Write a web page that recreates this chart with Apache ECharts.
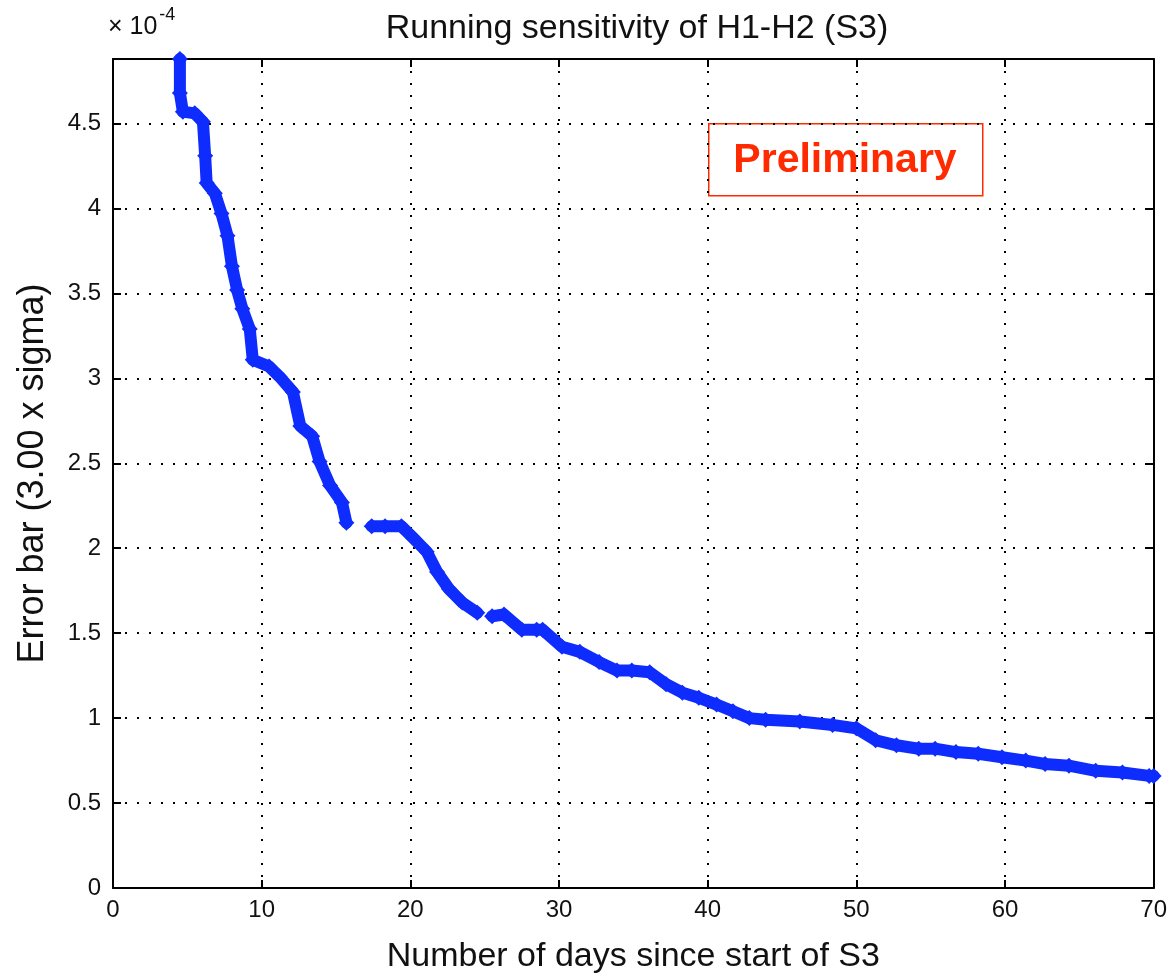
<!DOCTYPE html>
<html>
<head>
<meta charset="utf-8">
<script src="https://cdn.jsdelivr.net/npm/echarts@6/dist/echarts.min.js"></script>
<style>
  html, body { margin: 0; padding: 0; background: #fff; }
  #main { width: 1170px; height: 979px; }
</style>
</head>
<body>
<div id="main"></div>
<script>
// days since start of S3
const days = [4.5, 4.5, 4.7, 5.5, 6.05, 6.2, 6.3, 6.85, 7.3, 7.7, 8.0, 8.35, 8.7, 9.2, 9.4, 10.5, 11.2,
  12.1, 12.6, 13.4, 13.9, 14.6, 15.4, 15.7, 16.5, 17.4, 18.3, 19.4, 20.2, 21.1, 21.8, 22.6, 23.5, 24.5,
  25.0, 25.5, 26.3, 27.5, 28.5, 28.9, 30.2, 31.4, 32.7, 33.9, 34.9, 36.1, 37.2, 38.3, 39.4, 40.6, 41.7,
  42.8, 43.9, 46.2, 48.4, 50.0, 51.3, 52.7, 54.2, 55.3, 56.7, 58.2, 59.8, 61.4, 62.7, 64.3, 66.1, 67.9,
  69.7, 70];
// error bar (3 sigma), in units of 1e-4; null = gap in the data
const errBar = [4.88, 4.68, 4.57, 4.56, 4.51, 4.31, 4.15, 4.09, 3.97, 3.84, 3.66, 3.52, 3.41, 3.29, 3.11,
  3.07, 3.01, 2.92, 2.72, 2.66, 2.51, 2.37, 2.27, 2.15, null, 2.13, 2.13, 2.13, 2.06, 1.98, 1.86, 1.76,
  1.68, 1.62, null, 1.60, 1.61, 1.52, 1.52, 1.52, 1.42, 1.39, 1.33, 1.28, 1.28, 1.27, 1.20, 1.15, 1.12,
  1.08, 1.04, 1.00, 0.99, 0.98, 0.96, 0.94, 0.87, 0.84, 0.82, 0.82, 0.80, 0.79, 0.77, 0.75, 0.73, 0.72,
  0.69, 0.68, 0.66, 0.66];
const yTicks = [0, 0.5, 1, 1.5, 2, 2.5, 3, 3.5, 4, 4.5];

const font = 'Liberation Sans';
const blue = '#0f2cff';
const pts = days.map((d, i) => [d, errBar[i] === null ? '-' : errBar[i]]);

const chart = echarts.init(document.getElementById('main'));

const frame = {onZero: false, lineStyle: {color: '#000', width: 2}};
const tick = {show: true, inside: true, length: 8, lineStyle: {color: '#000', width: 2}};
const dots = {show: true, lineStyle: {color: '#000', width: 2, type: [2, 10]}};

chart.setOption({
  animation: false,
  backgroundColor: '#fff',
  grid: {left: 113, right: 15, top: 59, bottom: 90},
  title: {
    text: 'Running sensitivity of H1-H2 (S3)',
    left: 632, top: 7, textAlign: 'center',
    textStyle: {fontFamily: font, fontSize: 34, fontWeight: 'normal', color: '#111'}
  },
  xAxis: [{
    type: 'value', min: 0, max: 70, interval: 10,
    axisLine: frame, axisTick: tick,
    splitLine: dots,
    axisLabel: {fontFamily: font, fontSize: 24, color: '#111', margin: 10},
    name: 'Number of days since start of S3',
    nameLocation: 'middle', nameGap: 52,
    nameTextStyle: {fontFamily: font, fontSize: 34, color: '#111'}
  }, {
    type: 'value', min: 0, max: 70, interval: 10, position: 'top',
    axisLine: frame, axisTick: tick,
    axisLabel: {show: false}, splitLine: {show: false}
  }],
  yAxis: [{
    type: 'value', min: 0, max: 4.88, interval: 0.5,
    axisLine: {show: true, onZero: false, lineStyle: {color: '#000', width: 2}},
    axisTick: tick,
    splitLine: dots,
    axisLabel: {
      fontFamily: font, fontSize: 24, color: '#111', margin: 12,
      formatter: v => yTicks.includes(+v.toFixed(2)) ? String(+v.toFixed(2)) : ''
    },
    name: 'Error bar (3.00 x sigma)',
    nameLocation: 'middle', nameGap: 62, nameRotate: 90,
    nameTextStyle: {fontFamily: font, fontSize: 36, color: '#111'}
  }, {
    type: 'value', min: 0, max: 4.88, interval: 0.5, position: 'right',
    axisLine: {show: true, onZero: false, lineStyle: {color: '#000', width: 2}},
    axisTick: tick,
    axisLabel: {show: false}, splitLine: {show: false}
  }],
  series: [{
    type: 'line',
    data: pts,
    connectNulls: false,
    lineStyle: {color: blue, width: 12, join: 'round', cap: 'round'},
    symbol: 'diamond', symbolSize: 16, showAllSymbol: true,
    itemStyle: {color: blue},
    clip: true
  }],
  graphic: [{
    type: 'text', left: 108, top: 6,
    style: {
      text: '{a|× 10}{b|-4}',
      rich: {
        a: {fontFamily: font, fontSize: 25, fill: '#111', verticalAlign: 'bottom'},
        b: {fontFamily: font, fontSize: 18, fill: '#111', verticalAlign: 'top', padding: [0, 0, 16, 2]}
      }
    }
  }, {
    type: 'rect', left: 708, top: 123,
    shape: {width: 274, height: 72},
    style: {fill: 'rgba(0,0,0,0)', stroke: '#ff2a00', lineWidth: 1.5}
  }, {
    type: 'text', x: 845, y: 161,
    style: {
      text: 'Preliminary', fontFamily: font, fontSize: 41, fontWeight: 'bold',
      fill: '#ff2a00', align: 'center', verticalAlign: 'middle'
    }
  }]
});
</script>
</body>
</html>
